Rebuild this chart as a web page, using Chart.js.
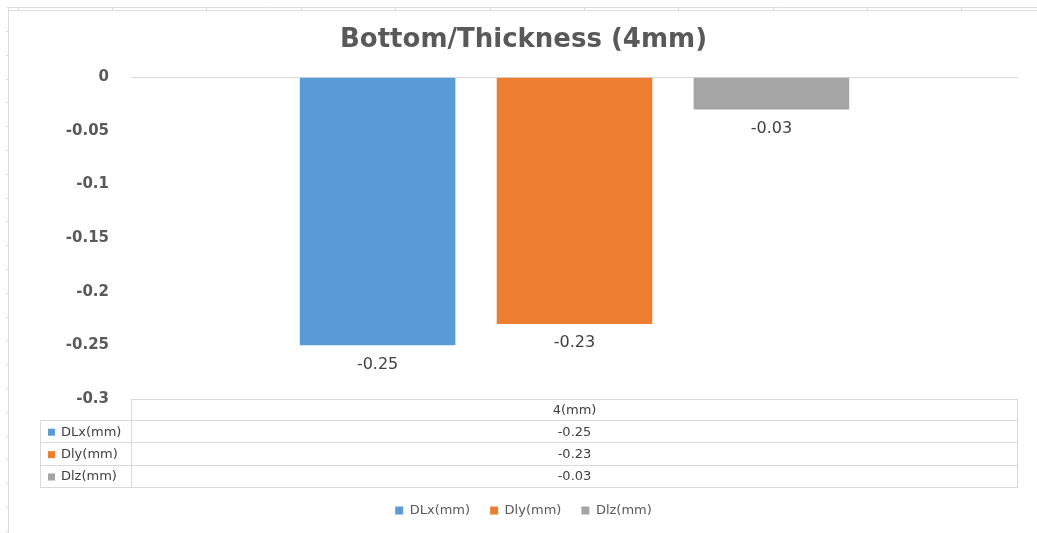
<!DOCTYPE html>
<html>
<head>
<meta charset="utf-8">
<script src="https://cdn.jsdelivr.net/npm/chart.js@4"></script>
<style>
  html, body { margin: 0; padding: 0; background: #fff; }
  canvas { display: block; }
</style>
</head>
<body>
<canvas id="deviationChart" width="1037" height="533"></canvas>
<script>
const categories = ['4(mm)'];
const seriesNames = ['DLx(mm)', 'Dly(mm)', 'Dlz(mm)'];
const dlxValues = [-0.25];
const dlyValues = [-0.23];
const dlzValues = [-0.03];
const yTickValues = [0, -0.05, -0.1, -0.15, -0.2, -0.25, -0.3];
const yTickLabels = ['0', '-0.05', '-0.1', '-0.15', '-0.2', '-0.25', '-0.3'];

const seriesColors = ['#5b9bd5', '#ed7d31', '#a5a5a5'];
const FONT = '"DejaVu Sans", sans-serif';

// sheet gridlines peeking around the chart object
const sheetPlugin = {
    id: 'sheetLines',
    beforeDraw(chart) {
        const ctx = chart.ctx;
        ctx.save();
        ctx.strokeStyle = '#dcdcdc';
        ctx.lineWidth = 1;
        ctx.beginPath();
        ctx.moveTo(7, 7.5); ctx.lineTo(chart.width, 7.5);
        ctx.moveTo(9, 10.5); ctx.lineTo(chart.width, 10.5);
        ctx.moveTo(8.5, 7); ctx.lineTo(8.5, chart.height);
        for (let x = 17.5; x < chart.width; x += 94.4) {
            ctx.moveTo(Math.round(x) + 0.5, 7); ctx.lineTo(Math.round(x) + 0.5, 10);
        }
        for (let y = 31; y < chart.height; y += 23.8) {
            ctx.moveTo(6, Math.round(y) + 0.5); ctx.lineTo(8, Math.round(y) + 0.5);
        }
        ctx.stroke();
        ctx.restore();
    }
};

// value under the end of each bar
const barLabelPlugin = {
    id: 'barLabels',
    afterDatasetsDraw(chart) {
        const ctx = chart.ctx;
        ctx.save();
        ctx.font = '16px ' + FONT;
        ctx.fillStyle = '#404040';
        ctx.textAlign = 'center';
        ctx.textBaseline = 'middle';
        chart.data.datasets.forEach((ds, i) => {
            chart.getDatasetMeta(i).data.forEach((bar, j) => {
                ctx.fillText(ds.data[j].toFixed(2), bar.x, bar.y + 19);
            });
        });
        ctx.restore();
    }
};

// data table under the plot
const tablePlugin = {
    id: 'dataTable',
    afterDraw(chart) {
        const ctx = chart.ctx;
        const area = chart.chartArea;
        const left = area.left, right = area.right, top = area.bottom;
        const keyLeft = 40;
        const headerH = 21, rowH = 22.4;
        const mid = (left + right) / 2;
        const bottom = top + headerH + rowH * chart.data.datasets.length;

        ctx.save();
        ctx.strokeStyle = '#d9d9d9';
        ctx.lineWidth = 1;
        ctx.beginPath();
        ctx.moveTo(left, top + 0.5); ctx.lineTo(right, top + 0.5);
        ctx.moveTo(left + 0.5, top); ctx.lineTo(left + 0.5, bottom);
        ctx.moveTo(right - 0.5, top); ctx.lineTo(right - 0.5, bottom);
        ctx.moveTo(keyLeft + 0.5, top + headerH); ctx.lineTo(keyLeft + 0.5, bottom);
        for (let r = 0; r <= chart.data.datasets.length; r++) {
            const y = Math.round(top + headerH + r * rowH) + 0.5;
            ctx.moveTo(keyLeft, y); ctx.lineTo(right, y);
        }
        ctx.stroke();

        ctx.font = '13px ' + FONT;
        ctx.fillStyle = '#404040';
        ctx.textBaseline = 'middle';
        ctx.textAlign = 'center';
        ctx.fillText(chart.data.labels[0], mid, top + headerH / 2 + 1);

        chart.data.datasets.forEach((ds, i) => {
            const cy = top + headerH + rowH * i + rowH / 2 + 1;
            ctx.fillStyle = ds.backgroundColor;
            ctx.fillRect(keyLeft + 8, cy - 3.5, 7, 7);
            ctx.fillStyle = '#404040';
            ctx.textAlign = 'left';
            ctx.fillText(ds.label, keyLeft + 21, cy);
            ctx.textAlign = 'center';
            ctx.fillText(ds.data[0].toFixed(2), mid, cy);
        });
        ctx.restore();
    }
};

const ctx = document.getElementById('deviationChart').getContext('2d');
const deviationChart = new Chart(ctx, {
    type: 'bar',
    data: {
        labels: categories,
        datasets: [
            { label: seriesNames[0], data: dlxValues, backgroundColor: seriesColors[0] },
            { label: seriesNames[1], data: dlyValues, backgroundColor: seriesColors[1] },
            { label: seriesNames[2], data: dlzValues, backgroundColor: seriesColors[2] },
        ],
    },
    options: {
        responsive: false,
        maintainAspectRatio: false,
        animation: false,
        devicePixelRatio: 1,
        categoryPercentage: 0.666,
        barPercentage: 0.79,
        layout: { padding: { left: 10, top: 10, right: 0, bottom: 6 } },
        plugins: {
            title: {
                display: true,
                text: 'Bottom/Thickness (4mm)',
                color: '#595959',
                font: { family: FONT, size: 26, weight: 'bold' },
                padding: { top: 15, bottom: 21 },
            },
            legend: {
                position: 'bottom',
                labels: {
                    boxWidth: 8,
                    boxHeight: 8,
                    padding: 20,
                    color: '#595959',
                    font: { family: FONT, size: 13 },
                },
            },
            tooltip: { enabled: false },
        },
        scales: {
            x: {
                ticks: { display: false },
                grid: { display: false },
                border: { display: false },
                afterFit(scale) { scale.height = 85; },
            },
            y: {
                min: -0.3,
                max: 0,
                afterBuildTicks(scale) {
                    scale.ticks = yTickValues.map(v => ({ value: v }));
                },
                ticks: {
                    padding: 22,
                    color: '#595959',
                    font: { family: FONT, size: 15, weight: 'bold' },
                    callback: (v) => yTickLabels[yTickValues.indexOf(v)],
                },
                grid: {
                    drawTicks: false,
                    color: (c) => (c.tick && c.tick.value === 0 ? '#d9d9d9' : 'rgba(0,0,0,0)'),
                },
                border: { display: false },
                afterFit(scale) { scale.width = 121; },
            },
            yRight: {
                position: 'right',
                display: true,
                ticks: { display: false },
                grid: { display: false },
                border: { display: false },
                afterFit(scale) { scale.width = 19; },
            },
        },
    },
    plugins: [sheetPlugin, barLabelPlugin, tablePlugin],
});
</script>
</body>
</html>
